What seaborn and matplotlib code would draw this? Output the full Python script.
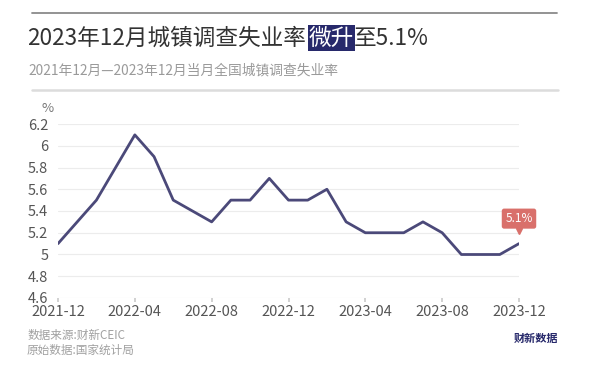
import numpy as np
import pandas as pd
import matplotlib
matplotlib.use("Agg")
import matplotlib.pyplot as plt
import matplotlib.transforms as mtransforms
import seaborn as sns

# data: monthly urban surveyed unemployment rate (%)
months = ["2021-12", "2022-01", "2022-02", "2022-03", "2022-04", "2022-05", "2022-06",
          "2022-07", "2022-08", "2022-09", "2022-10", "2022-11", "2022-12",
          "2023-01", "2023-02", "2023-03", "2023-04", "2023-05", "2023-06",
          "2023-07", "2023-08", "2023-09", "2023-10", "2023-11", "2023-12"]
rate = [5.1, 5.3, 5.5, 5.8, 6.1, 5.9, 5.5, 5.4, 5.3, 5.5, 5.5, 5.7, 5.5,
        5.5, 5.6, 5.3, 5.2, 5.2, 5.2, 5.3, 5.2, 5.0, 5.0, 5.0, 5.1]
y_ticks = [4.6, 4.8, 5, 5.2, 5.4, 5.6, 5.8, 6, 6.2]
y_tick_labels = ["4.6", "4.8", "5", "5.2", "5.4", "5.6", "5.8", "6", "6.2"]
x_tick_labels = ["2021-12", "2022-04", "2022-08", "2022-12", "2023-04", "2023-08", "2023-12"]

df = pd.DataFrame({"month": months, "rate": rate})
df["idx"] = np.arange(len(df))

sns.set_theme(style="white")
plt.rcParams['font.family'] = ['Noto Sans CJK SC', 'DejaVu Sans']

LINE = "#4b4979"
NAVY = "#27296b"

fig = plt.figure(figsize=(6, 3.71), dpi=100)
ax = fig.add_axes([58 / 600, 1 - 298 / 371, (519 - 58) / 600, (298 - 124) / 371])

sns.lineplot(data=df, x="idx", y="rate", ax=ax, color=LINE, linewidth=2)

ax.set_xlim(0, len(df) - 1)
ax.set_ylim(4.6, 6.2)
ax.set_yticks(y_ticks)
ax.set_yticklabels(y_tick_labels)
tick_pos = [months.index(m) for m in x_tick_labels]
ax.set_xticks(tick_pos)
ax.set_xticklabels(x_tick_labels)
ax.set_xlabel("")
ax.set_ylabel("")
for s in ax.spines.values():
    s.set_visible(False)
ax.grid(axis="y", color="#ececec", linewidth=0.8)
ax.grid(axis="x", visible=False)
ax.tick_params(axis="y", length=0, labelsize=10.5, labelcolor="#555555", pad=7)
ax.tick_params(axis="x", length=3, color="#cccccc", labelsize=10.5, labelcolor="#555555",
               pad=2, bottom=True, direction="out")
ax.text(-0.01, 1.05, "%", transform=ax.transAxes, ha="right", va="bottom",
        fontsize=9.5, color="#777777")

# label on the last point
last = df.iloc[-1]
trans = mtransforms.offset_copy(ax.transData, fig=fig, x=0, y=9, units="points")
ax.plot(last["idx"], last["rate"], marker="v", markersize=5, color="#d9706b",
        transform=trans, clip_on=False)
ax.annotate(f"{last['rate']:.1f}%", xy=(last["idx"], last["rate"]), xytext=(0, 18),
            textcoords="offset points", ha="center", va="center", fontsize=8.5,
            color="white",
            bbox=dict(boxstyle="round,pad=0.3,rounding_size=0.2", fc="#d9706b", ec="none"))

# header rules
fig.add_artist(plt.Line2D([32 / 600, 557 / 600], [1 - 13 / 371] * 2, color="#8a8a8a", lw=1.3))
fig.add_artist(plt.Line2D([32 / 600, 558 / 600], [1 - 90 / 371] * 2, color="#dcdcdc", lw=1.8))

# title with highlighted part
fig.canvas.draw()
renderer = fig.canvas.get_renderer()
title_y = 1 - 38 / 371
x0 = 27 / 600
parts = [("2023年12月城镇调查失业率", None), ("微升", NAVY), ("至5.1%", None)]
for txt, bg in parts:
    kw = {}
    if bg:
        x0 += 3 / 600
        kw["bbox"] = dict(boxstyle="square,pad=0.06", fc=bg, ec="none")
    t = fig.text(x0, title_y, txt, fontsize=16.3, color="white" if bg else "#333333",
                 ha="left", va="center", **kw)
    bb = t.get_window_extent(renderer)
    x0 += bb.width / fig.bbox.width

fig.text(28 / 600, 1 - 70 / 371, "2021年12月—2023年12月当月全国城镇调查失业率",
         fontsize=9.9, color="#9a9a9a", ha="left", va="center")

# footer
fig.text(27 / 600, 1 - 335 / 371, "数据来源:财新CEIC", fontsize=8.4, color="#a0a0a0",
         ha="left", va="center")
fig.text(27 / 600, 1 - 350 / 371, "原始数据:国家统计局", fontsize=8.4, color="#a0a0a0",
         ha="left", va="center")
fig.text(536 / 600, 1 - 338 / 371, "财新数据", fontsize=8, color=NAVY, fontweight="bold",
         ha="center", va="center")

fig.savefig("out.png", dpi=100)
